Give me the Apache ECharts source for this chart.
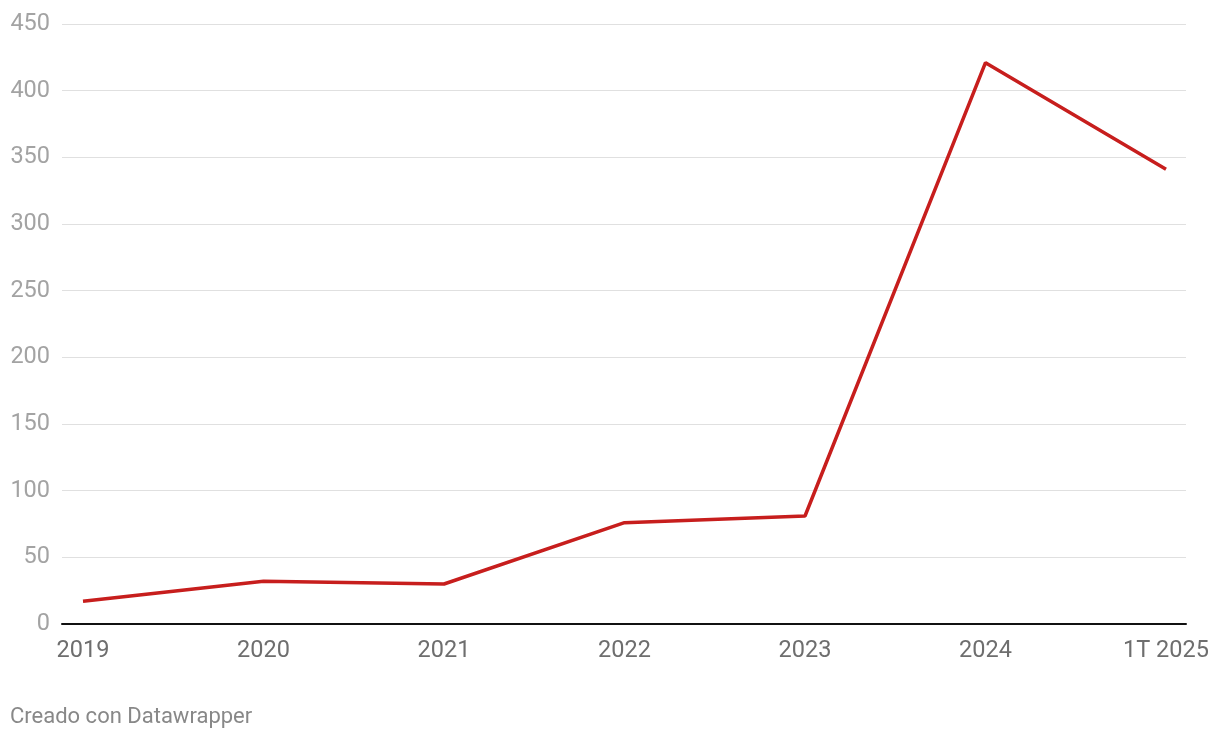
<!DOCTYPE html>
<html><head><meta charset="utf-8">
<script src="https://cdn.jsdelivr.net/npm/echarts@6/dist/echarts.min.js"></script>
<style>html,body{margin:0;padding:0;background:#fff}#c{width:1220px;height:740px}</style>
</head><body><div id="c"></div>
<script>
var categories = ['2019','2020','2021','2022','2023','2024','1T 2025'];
var values = [17, 32, 30, 76, 81, 421, 341];
var yTicks = [0, 50, 100, 150, 200, 250, 300, 350, 400, 450];

var chart = echarts.init(document.getElementById('c'));
var font = 'Roboto';
chart.setOption({
  animation: false,
  backgroundColor: '#fff',
  graphic: [{
    type: 'text', left: 10, top: 706,
    style: { text: 'Creado con Datawrapper', fill: '#888', font: '22px Roboto' }
  }],
  grid: [
    { left: 62, right: 34, top: 24, bottom: 116 },
    { left: 83, right: 54, top: 24, bottom: 116 }
  ],
  xAxis: [
    { gridIndex: 0, type: 'value', min: 0, max: 1, show: true,
      axisLine: { show: true, lineStyle: { color: '#111', width: 2 } },
      axisTick: { show: false }, axisLabel: { show: false }, splitLine: { show: false } },
    { gridIndex: 1, type: 'category', data: categories, boundaryGap: false,
      axisLine: { show: false }, axisTick: { show: false },
      axisLabel: { color: '#6e6e6e', fontFamily: font, fontSize: 23.5, margin: 15, interval: 0 } }
  ],
  yAxis: [
    { gridIndex: 0, type: 'value', min: yTicks[0], max: yTicks[yTicks.length-1], interval: 50,
      axisLine: { show: false }, axisTick: { show: false },
      axisLabel: { color: '#a3a3a3', fontFamily: font, fontSize: 23.5, margin: 12 },
      splitLine: { lineStyle: { color: '#e0e0e0', width: 1 } } },
    { gridIndex: 1, type: 'value', min: yTicks[0], max: yTicks[yTicks.length-1], interval: 50,
      show: false, splitLine: { show: false } }
  ],
  series: [{
    type: 'line', xAxisIndex: 1, yAxisIndex: 1, data: values,
    symbol: 'none', lineStyle: { color: '#c71e1d', width: 3.5 }
  }]
});
</script></body></html>
